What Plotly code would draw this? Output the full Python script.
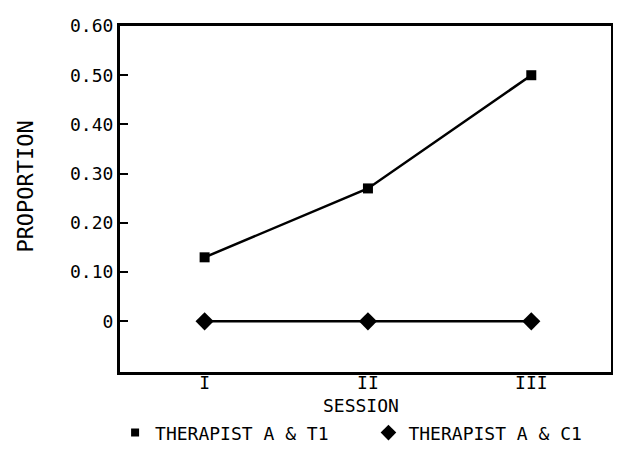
import plotly.graph_objects as go

sessions = [1, 2, 3]
session_labels = ["I", "II", "III"]
t1_values = [0.13, 0.27, 0.50]
c1_values = [0.0, 0.0, 0.0]
y_ticks = [0, 0.1, 0.2, 0.3, 0.4, 0.5, 0.6]
y_tick_labels = ["0", "0.10", "0.20", "0.30", "0.40", "0.50", "0.60"]
series_names = ["THERAPIST A & T1", "THERAPIST A & C1"]

FONT = "DejaVu Sans Mono"

fig = go.Figure()
fig.add_trace(go.Scatter(x=sessions, y=t1_values, mode="lines+markers",
                         line=dict(color="black", width=2.5),
                         marker=dict(symbol="square", size=10, color="black"),
                         showlegend=False))
fig.add_trace(go.Scatter(x=sessions, y=c1_values, mode="lines+markers",
                         line=dict(color="black", width=2.5),
                         marker=dict(symbol="diamond", size=14, color="black"),
                         showlegend=False))
# legend-only entries (markers only, like the reference)
fig.add_trace(go.Scatter(x=[None], y=[None], mode="markers", name=series_names[0],
                         marker=dict(symbol="square", size=8, color="black"),
                         legend="legend"))
fig.add_trace(go.Scatter(x=[None], y=[None], mode="markers", name=series_names[1],
                         marker=dict(symbol="diamond", size=12, color="black"),
                         legend="legend2"))

leg_common = dict(orientation="h", xanchor="left", y=-0.176, yanchor="middle",
                  font=dict(family=FONT, size=18, color="black"),
                  bgcolor="rgba(0,0,0,0)", itemclick=False)

fig.update_layout(
    width=605, height=449,
    margin=dict(l=112, r=2, t=18, b=85),
    paper_bgcolor="white", plot_bgcolor="white",
    font=dict(family=FONT, size=18, color="black"),
    showlegend=True,
    legend=dict(x=-0.01, **leg_common),
    legend2=dict(x=0.506, **leg_common),
    xaxis=dict(range=[0.482, 3.488], tickvals=sessions, ticktext=session_labels,
               showgrid=False, zeroline=False, showline=True, linecolor="black",
               linewidth=3, mirror=True, ticks="", ticklabelstandoff=-8,
               automargin=False, tickfont=dict(family=FONT, size=18)),
    yaxis=dict(range=[-0.103, 0.6], tickvals=y_ticks, ticktext=y_tick_labels,
               showgrid=False, zeroline=False, showline=True, linecolor="black",
               linewidth=3, mirror=True, ticks="inside", ticklen=8, tickwidth=2,
               tickcolor="black", automargin=False, tickfont=dict(family=FONT, size=18)),
    annotations=[
        dict(text="SESSION", xref="paper", yref="paper", x=0.49, y=-0.098,
             xanchor="center", yanchor="middle", showarrow=False,
             font=dict(family=FONT, size=18, color="black")),
        dict(text="PROPORTION", xref="paper", yref="paper", x=-0.192, y=0.535,
             xanchor="center", yanchor="middle", showarrow=False, textangle=-90,
             font=dict(family=FONT, size=22, color="black")),
    ],
)

fig.write_html("out.html")
